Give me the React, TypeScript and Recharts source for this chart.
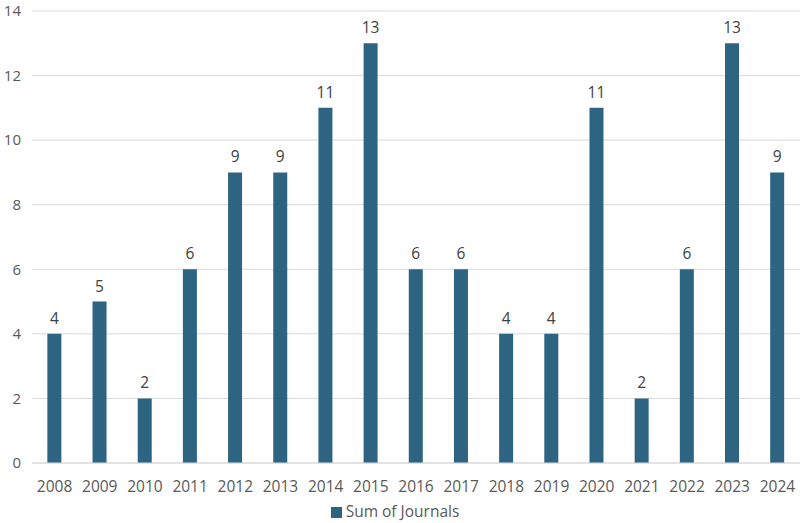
import { BarChart, Bar, XAxis, YAxis, CartesianGrid, Legend, LabelList } from 'recharts';

const years = ['2008', '2009', '2010', '2011', '2012', '2013', '2014', '2015', '2016', '2017', '2018', '2019', '2020', '2021', '2022', '2023', '2024'];
const journals = [4, 5, 2, 6, 9, 9, 11, 13, 6, 6, 4, 4, 11, 2, 6, 13, 9];
const yTicks = [0, 2, 4, 6, 8, 10, 12, 14];

const data = years.map((year, i) => ({ year, journals: journals[i] }));

const font = '"Open Sans", "Noto Sans", sans-serif';
const fs = 15.5;

export default function App() {
  return (
    <div style={{ position: 'absolute', left: 0, top: 0, width: 800, height: 523, background: '#fff', fontFamily: font }}>
      <BarChart width={800} height={523} data={data} margin={{ top: 11, right: 0, left: 0, bottom: 0 }} barCategoryGap="34%">
        <CartesianGrid vertical={false} stroke="#d9d9d9" />
        <XAxis
          dataKey="year"
          axisLine={{ stroke: '#d9d9d9' }}
          tickLine={false}
          tick={{ fill: '#595959', fontSize: fs, fontFamily: font }}
          height={36}
          tickMargin={12}
        />
        <YAxis
          domain={[0, 14]}
          ticks={yTicks}
          axisLine={false}
          tickLine={false}
          width={32}
          tickMargin={5}
          tick={{ fill: '#595959', fontSize: 15, fontFamily: font }}
        />
        <Legend
          iconType="square"
          iconSize={11}
          height={24}
          wrapperStyle={{ fontSize: fs, fontFamily: font, color: '#595959', bottom: 0, lineHeight: '24px' }}
          formatter={(v) => <span style={{ color: '#595959' }}>{v}</span>}
        />
        <Bar dataKey="journals" name="Sum of Journals" fill="#2c6482" isAnimationActive={false}>
          <LabelList dataKey="journals" position="top" offset={10} fill="#404040" fontSize={fs} fontFamily={font} />
        </Bar>
      </BarChart>
    </div>
  );
}
